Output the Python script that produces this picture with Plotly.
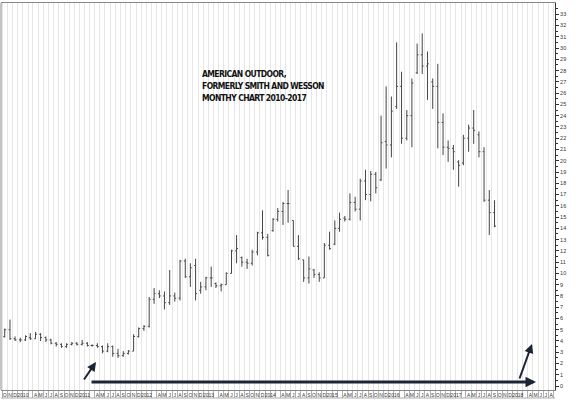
import plotly.graph_objects as go
import pandas as pd

# ---------------- data (monthly OHLC, Oct 2009 - Sep 2017) ----------------
first_month = "2009-10"
n_months = 96
months = pd.period_range(first_month, periods=n_months, freq="M").to_timestamp()

opens = [4.4, 5.0, 4.2, 4.1, 4.1, 4.3, 4.2, 4.6, 4.3, 4.1, 3.8, 3.7, 3.5, 3.7, 3.8, 3.7,
         3.8, 3.6, 3.6, 3.5, 3.1, 3.5, 2.9, 2.7, 2.9, 3.1, 4.4, 5.1, 5.3, 7.7, 8.2, 8.0,
         7.4, 8.0, 7.8, 11.1, 9.7, 10.7, 8.5, 8.8, 9.6, 9.1, 8.9, 9.0, 10.0, 12.0, 11.4, 11.0,
         10.9, 11.9, 13.6, 13.2, 13.8, 14.8, 15.5, 16.2, 14.7, 12.4, 11.2, 9.6, 10.3, 9.9, 9.6, 12.5,
         12.6, 14.0, 14.9, 14.8, 16.3, 15.7, 18.2, 17.0, 18.8, 18.3, 21.7, 21.4, 24.8, 26.6, 22.0, 24.0,
         27.8, 29.4, 28.4, 27.0, 26.6, 23.4, 21.2, 21.1, 19.9, 19.8, 22.0, 22.9, 22.3, 20.8, 16.5, 15.4]
highs = [5.1, 5.9, 4.4, 4.3, 4.5, 4.7, 4.8, 4.7, 4.4, 4.2, 3.9, 3.8, 3.8, 3.9, 3.9, 4.1,
         3.9, 3.7, 3.8, 3.6, 3.8, 3.6, 3.3, 3.1, 3.2, 4.6, 5.2, 5.4, 7.9, 8.7, 8.5, 8.4,
         10.3, 8.3, 11.2, 11.3, 10.9, 11.3, 9.25, 9.7, 10.6, 9.2, 9.1, 10.1, 12.1, 13.4, 11.5, 11.3,
         12.1, 13.7, 15.6, 13.5, 14.9, 15.8, 16.35, 17.4, 14.7, 13.4, 11.2, 11.5, 10.4, 10.1, 12.7, 13.7,
         14.7, 15.4, 15.1, 17.1, 16.8, 18.4, 19.2, 19.1, 19.0, 24.0, 26.6, 25.7, 30.5, 27.9, 24.5, 27.3,
         30.4, 31.3, 29.7, 27.3, 28.6, 24.2, 21.8, 21.4, 20.05, 22.3, 23.2, 24.5, 22.6, 21.2, 17.4, 16.5]
lows = [4.3, 4.1, 4.0, 3.9, 4.0, 4.1, 4.2, 4.0, 3.9, 3.7, 3.5, 3.4, 3.4, 3.6, 3.6, 3.6,
        3.5, 3.5, 3.4, 2.9, 3.0, 2.6, 2.5, 2.6, 2.8, 3.1, 4.3, 4.9, 5.2, 7.3, 7.8, 6.8,
        7.2, 7.5, 7.6, 9.6, 8.8, 7.6, 8.2, 8.5, 8.8, 8.7, 8.4, 9.0, 10.0, 10.9, 10.6, 10.4,
        10.7, 11.6, 13.0, 11.5, 13.7, 14.6, 14.3, 14.5, 12.4, 11.2, 9.25, 9.1, 9.6, 9.25, 9.6, 12.1,
        12.5, 13.7, 14.6, 14.7, 15.5, 14.7, 16.5, 16.4, 17.1, 18.2, 19.3, 20.3, 24.6, 21.5, 21.8, 21.2,
        27.7, 27.7, 25.4, 24.6, 21.1, 20.5, 19.9, 19.2, 17.7, 19.6, 20.8, 21.5, 20.3, 16.35, 13.4, 14.1]
closes = [5.0, 4.2, 4.1, 4.1, 4.4, 4.2, 4.6, 4.3, 4.1, 3.8, 3.7, 3.5, 3.7, 3.8, 3.7, 3.8,
          3.6, 3.6, 3.5, 3.1, 3.5, 2.9, 2.7, 2.9, 3.1, 4.4, 5.1, 5.3, 7.7, 8.2, 8.0, 7.4,
          8.0, 7.8, 11.1, 9.7, 10.5, 8.2, 8.8, 9.6, 9.6, 8.9, 9.0, 10.0, 12.0, 12.2, 11.0, 10.9,
          11.9, 13.6, 13.2, 11.6, 14.8, 15.5, 16.2, 16.2, 12.4, 11.3, 9.6, 10.4, 9.9, 9.6, 12.5, 12.2,
          14.0, 14.8, 14.8, 16.3, 15.7, 18.2, 17.0, 18.8, 17.6, 21.6, 21.4, 24.4, 26.6, 22.0, 24.0, 26.9,
          29.4, 28.4, 28.6, 26.6, 23.4, 21.2, 21.1, 20.8, 19.6, 22.0, 22.9, 22.7, 20.8, 16.5, 15.4, 14.2]

# tick labels: year spans the Jan/Feb boxes, letters for the other months (Mar box left empty)
month_letters = ["", "", "", "A", "M", "J", "J", "A", "S", "O", "N", "D"]
axis_first_label = "2009-10"
axis_last_label = "2018-08"
y_ticks = list(range(0, 34))

title_lines = ["AMERICAN OUTDOOR,", "FORMERLY SMITH AND WESSON", "MONTHY CHART 2010-2017"]

# ---------------- figure ----------------
label_months = pd.period_range(axis_first_label, axis_last_label, freq="M").to_timestamp()
tick_vals = [d + pd.Timedelta(days=15) if d.month == 1 else d for d in label_months]
tick_text = [str(d.year) if d.month == 1 else month_letters[d.month - 1] for d in label_months]
bounds = pd.period_range("2009-09", axis_last_label, freq="M").to_timestamp() + pd.Timedelta(days=15)

bar_line = dict(color="#444444", width=1)
fig = go.Figure(go.Ohlc(
    x=months, open=opens, high=highs, low=lows, close=closes,
    increasing=dict(line=bar_line), decreasing=dict(line=bar_line),
    tickwidth=0.3, hoverinfo="skip", showlegend=False,
))

L, R, T, B = 1, 21, 3, 13
W, H = 576, 403
pw, ph = W - L - R, H - T - B


def paper(px, py):
    return (px - L) / pw, (H - B - py) / ph


def arrow(tail, head, width, size):
    hx, hy = paper(*head)
    return dict(x=hx, y=hy, xref="paper", yref="paper", text="", showarrow=True,
                ax=tail[0] - head[0], ay=tail[1] - head[1], axref="pixel", ayref="pixel",
                arrowhead=2, arrowsize=size, arrowwidth=width, arrowcolor="#1d2436")


annotations = []
for i, line in enumerate(title_lines):
    tx, ty = paper(200, 74 + 12 * i)
    annotations.append(dict(
        x=tx, y=ty, xref="paper", yref="paper", xanchor="left", yanchor="middle", align="left",
        showarrow=False,
        text="<b><span style='letter-spacing:-0.6px'>" + line + "</span></b>",
        font=dict(family="Liberation Sans Narrow, DejaVu Sans Condensed, Arial Narrow, sans-serif",
                  size=8.5, color="#111111")))
annotations += [
    arrow((83, 381), (96, 362), 2, 0.9),
    arrow((90, 382), (536, 382), 3, 0.7),
    arrow((519, 380), (532, 344), 2, 0.9),
]

fig.update_layout(
    width=W, height=H, margin=dict(l=L, r=R, t=T, b=B, autoexpand=False),
    paper_bgcolor="white", plot_bgcolor="white", showlegend=False,
    annotations=annotations,
    shapes=[
        dict(type="line", xref="paper", yref="paper", x0=0, x1=0, y0=0, y1=1,
             line=dict(color="#888888", width=1)),
        dict(type="line", xref="paper", yref="paper", x0=0, x1=1, y0=-8 / ph, y1=-8 / ph,
             line=dict(color="#aaaaaa", width=1)),
    ],
    xaxis=dict(
        type="date", range=["2009-09-09", "2018-08-24"], rangeslider=dict(visible=False),
        tickmode="array", tickvals=tick_vals, ticktext=tick_text, tickangle=0,
        ticks="", ticklen=0, showgrid=False, showline=True, mirror=True,
        linecolor="#888888", linewidth=1, automargin=False,
        tickfont=dict(family="Liberation Sans, Arial, sans-serif", size=5, color="#333333"),
        minor=dict(tickvals=bounds, ticks="outside", ticklen=7, tickcolor="#b0b0b0",
                   showgrid=True, gridcolor="#e6e6e6", gridwidth=1),
        zeroline=False,
    ),
    yaxis=dict(
        side="right", range=[-0.35, 34.0], tickmode="array", tickvals=y_ticks,
        ticks="outside", ticklen=3, tickcolor="#333333", showgrid=False, zeroline=False,
        showline=True, linecolor="#333333", linewidth=1, automargin=False,
        tickfont=dict(family="Liberation Sans, Arial, sans-serif", size=5.5, color="#333333"),
        minor=dict(tickvals=[v + 0.5 for v in y_ticks], ticks="outside", ticklen=2,
                   tickcolor="#333333"),
    ),
)

fig.write_html("out.html", config={"displayModeBar": False, "staticPlot": True},
               post_script="document.body.style.margin='0';document.body.style.overflow='hidden';")
